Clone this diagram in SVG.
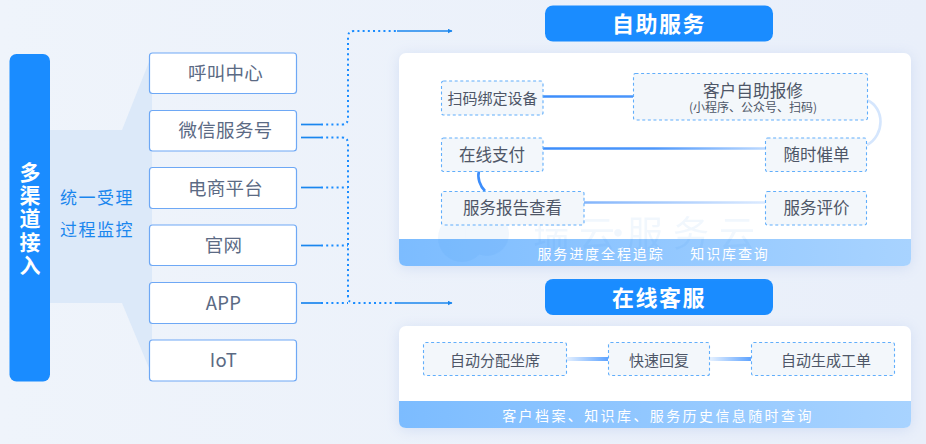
<svg xmlns="http://www.w3.org/2000/svg" width="926" height="444" viewBox="0 0 926 444">
<style>
text{font-family:"Noto Sans CJK SC","Noto Sans",sans-serif;text-anchor:middle}
.src rect{fill:#fff;stroke:#6ea8f5;stroke-width:1.2}
.src text{font-size:18.5px;fill:#5b6a84;letter-spacing:.3px}
.box rect{fill:#f3f7fb;stroke:#61aefb;stroke-width:1.1;stroke-dasharray:3 2.6}
.box text{font-size:16.500px;fill:#4e5667}
.title rect{fill:#1a8cff}
.title text{font-size:22px;font-weight:700;fill:#fff;letter-spacing:1.500px}
.panel{fill:#fff;filter:url(#sh)}
.band text{font-size:14px;fill:#fff;letter-spacing:1.900px}
.d{fill:none;stroke:#1a8cff;stroke-width:2;stroke-dasharray:2 3.2}
.s{fill:none;stroke:#1a86ee;stroke-width:1.7}
.f{fill:none;stroke-width:2.600}
</style>
<defs>
<linearGradient id="bg" x1="0" y1="0" x2="1" y2="0"><stop offset="0" stop-color="#eff4fb"/><stop offset="1" stop-color="#e9effa"/></linearGradient>
<linearGradient id="band" x1="0" y1="0" x2="1" y2="0"><stop offset="0" stop-color="#7cbcff"/><stop offset="1" stop-color="#a8d3ff"/></linearGradient>
<linearGradient id="l1" gradientUnits="userSpaceOnUse" x1="543" y1="0" x2="765" y2="0"><stop offset="0" stop-color="#3c8dfb"/><stop offset=".5" stop-color="#4d97fb"/><stop offset="1" stop-color="#bcd9ff"/></linearGradient>
<linearGradient id="l2" gradientUnits="userSpaceOnUse" x1="584" y1="0" x2="765" y2="0"><stop offset="0" stop-color="#82b4fb"/><stop offset="1" stop-color="#dbeaff"/></linearGradient>
<linearGradient id="l3" gradientUnits="userSpaceOnUse" x1="566" y1="0" x2="608" y2="0"><stop offset="0" stop-color="#e6f1ff"/><stop offset="1" stop-color="#5ea3ff"/></linearGradient>
<linearGradient id="l4" gradientUnits="userSpaceOnUse" x1="710" y1="0" x2="751" y2="0"><stop offset="0" stop-color="#e6f1ff"/><stop offset="1" stop-color="#5ea3ff"/></linearGradient>
<filter id="sh" x="-10%" y="-20%" width="120%" height="140%"><feDropShadow dx="0" dy="2" stdDeviation="7" flood-color="#b4c6ea" flood-opacity=".45"/></filter>
<marker id="ah" markerWidth="6" markerHeight="6" refX="4.500" refY="2.500" orient="auto" markerUnits="userSpaceOnUse"><path d="M0 0L5 2.500L0 5Z" fill="#1a86ee"/></marker>
</defs>
<rect width="926" height="444" fill="url(#bg)"/>

<g id="funnel">
<path d="M50 130H122L149 62L152 54V372L149 368L122 303H50Z" fill="#dce9f9"/>
<text x="97" y="204" font-size="17" fill="#1a86ee" letter-spacing="1.500">统一受理</text>
<text x="97" y="236" font-size="17" fill="#1a86ee" letter-spacing="1.500">过程监控</text>
</g>

<g id="access">
<rect x="9.500" y="54" width="40.500" height="327.500" rx="7" fill="#1a8cff"/>
<text font-size="21" font-weight="700" fill="#fff"><tspan x="30" y="180">多</tspan><tspan x="30" y="203">渠</tspan><tspan x="30" y="226">道</tspan><tspan x="30" y="250">接</tspan><tspan x="30" y="273">入</tspan></text>
</g>

<g id="n-call" class="src"><rect x="149.500" y="53" width="147" height="40.500" rx="3"/><text x="225.500" y="80">呼叫中心</text></g>
<g id="n-wechat" class="src"><rect x="149.500" y="110.500" width="147" height="40.500" rx="3"/><text x="225.500" y="137">微信服务号</text></g>
<g id="n-shop" class="src"><rect x="149.500" y="167.500" width="147" height="41" rx="3"/><text x="225.500" y="195">电商平台</text></g>
<g id="n-web" class="src"><rect x="149.500" y="225" width="147" height="40.500" rx="3"/><text x="223.500" y="252">官网</text></g>
<g id="n-app" class="src"><rect x="149.500" y="282.500" width="147" height="41" rx="3"/><text x="223.500" y="310">APP</text></g>
<g id="n-iot" class="src"><rect x="149.500" y="340" width="147" height="41" rx="3"/><text x="223.500" y="367">IoT</text></g>

<g id="connectors">
<path class="s" d="M301 124.500H321"/><path class="d" d="M321 124.500H342Q348 124.500 348 118V37Q348 31 354 31H397"/><path class="s" d="M397 31H452" marker-end="url(#ah)"/>
<path class="s" d="M301 137.500H321"/><path class="d" d="M321 137.500H342Q348 137.500 348 144V296Q348 303 354 303H397"/>
<path class="s" d="M301 187.500H321"/><path class="d" d="M321 187.500H348"/>
<path class="s" d="M301 245.500H321"/><path class="d" d="M321 245.500H348"/>
<path class="s" d="M301 303H321"/><path class="d" d="M321 303H348"/>
<path class="s" d="M397 303H452" marker-end="url(#ah)"/>
</g>

<g id="t-self" class="title"><rect x="545" y="5.500" width="228" height="36" rx="8"/><text x="659" y="32">自助服务</text></g>
<g id="t-online" class="title"><rect x="545" y="279" width="228" height="36" rx="8"/><text x="659" y="305.500">在线客服</text></g>

<g id="p-self">
<rect class="panel" x="399" y="53" width="512" height="213" rx="7"/>
<path d="M399 239H911V259Q911 266 904 266H406Q399 266 399 259Z" fill="url(#band)"/>
<g id="watermark" opacity=".06" fill="#1f7fe6">
<circle cx="462" cy="238" r="24"/><circle cx="487" cy="234" r="22"/>
<text y="247" font-size="36" letter-spacing="10" style="text-anchor:start"><tspan x="533">瑞云</tspan><tspan x="600">·</tspan><tspan x="627">服务云</tspan></text>
</g>
<g class="band">
<text x="601" y="259">服务进度全程追踪</text>
<text x="730" y="259">知识库查询</text>
</g>
</g>

<g id="p-online">
<rect class="panel" x="399" y="326" width="512" height="102" rx="7"/>
<g class="band">
<path d="M399 401H911V421Q911 428 904 428H406Q399 428 399 421Z" fill="url(#band)"/>
<text x="658" y="420.500" style="letter-spacing:2.400px">客户档案、知识库、服务历史信息随时查询</text>
</g>
</g>

<g id="flow">
<path class="f" stroke="url(#l1)" d="M543 96.500H633"/>
<path class="f" stroke="url(#l1)" d="M543 148.500H765"/>
<path class="f" stroke="url(#l2)" d="M584 202.500H765"/>
<path class="f" stroke="#d5e6fd" d="M867 100C885 108 885 135 867 145"/>
<path class="f" stroke="#3c8dfb" d="M479 171C477 178 480 186 485 191"/>
<rect x="566" y="357" width="42" height="4" fill="url(#l3)"/>
<rect x="710" y="357" width="41" height="4" fill="url(#l4)"/>
</g>

<g id="b-scan" class="box"><rect x="441.500" y="81" width="101.500" height="34" rx="2"/><text x="492.500" y="104" style="font-size:15px">扫码绑定设备</text></g>
<g id="b-repair" class="box"><rect x="633.500" y="73.500" width="234" height="46.500" rx="2"/><text x="753" y="97" style="font-size:16.700px">客户自助报修</text><text x="753" y="112" style="font-size:12px">(小程序、公众号、扫码)</text></g>
<g id="b-pay" class="box"><rect x="441.500" y="138" width="101.500" height="33.500" rx="2"/><text x="492" y="161">在线支付</text></g>
<g id="b-urge" class="box"><rect x="765.500" y="138" width="101" height="33.500" rx="2"/><text x="816.500" y="161">随时催单</text></g>
<g id="b-report" class="box"><rect x="441.500" y="191.500" width="142.500" height="33.500" rx="2"/><text x="512.500" y="214">服务报告查看</text></g>
<g id="b-rate" class="box"><rect x="765.500" y="191.500" width="101" height="33.500" rx="2"/><text x="816.500" y="214">服务评价</text></g>
<g id="b-assign" class="box"><rect x="423.500" y="342.500" width="143" height="33" rx="2"/><text x="495" y="365.500" style="font-size:15px">自动分配坐席</text></g>
<g id="b-reply" class="box"><rect x="608.500" y="342.500" width="101" height="33" rx="2"/><text x="659" y="365.500" style="font-size:15px">快速回复</text></g>
<g id="b-ticket" class="box"><rect x="751.500" y="342.500" width="143" height="33" rx="2"/><text x="826" y="365.500" style="font-size:15px">自动生成工单</text></g>
</svg>
